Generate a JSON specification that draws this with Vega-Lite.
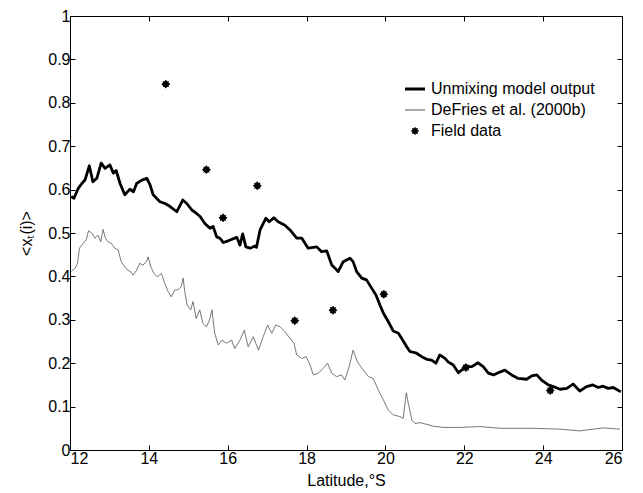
{
  "$schema": "https://vega.github.io/schema/vega-lite/v6.json",
  "width": 552,
  "height": 434,
  "autosize": {"type": "none"},
  "padding": {"left": 70, "top": 16, "right": 21, "bottom": 43},
  "background": "white",
  "datasets": {
    "unmix": [
      {"lat":12.03,"v":0.584},{"lat":12.10,"v":0.580},{"lat":12.21,"v":0.603},{"lat":12.30,"v":0.614},{"lat":12.38,"v":0.622},{"lat":12.49,"v":0.655},{"lat":12.58,"v":0.618},{"lat":12.68,"v":0.626},{"lat":12.79,"v":0.661},{"lat":12.89,"v":0.649},{"lat":13.01,"v":0.657},{"lat":13.10,"v":0.638},{"lat":13.17,"v":0.644},{"lat":13.27,"v":0.614},{"lat":13.39,"v":0.588},{"lat":13.52,"v":0.601},{"lat":13.61,"v":0.595},{"lat":13.69,"v":0.614},{"lat":13.82,"v":0.622},{"lat":13.95,"v":0.626},{"lat":14.03,"v":0.611},{"lat":14.11,"v":0.588},{"lat":14.28,"v":0.572},{"lat":14.41,"v":0.568},{"lat":14.54,"v":0.561},{"lat":14.71,"v":0.549},{"lat":14.86,"v":0.576},{"lat":14.96,"v":0.568},{"lat":15.09,"v":0.553},{"lat":15.21,"v":0.545},{"lat":15.30,"v":0.538},{"lat":15.42,"v":0.522},{"lat":15.55,"v":0.511},{"lat":15.63,"v":0.515},{"lat":15.72,"v":0.491},{"lat":15.80,"v":0.488},{"lat":15.89,"v":0.478},{"lat":16.01,"v":0.482},{"lat":16.23,"v":0.490},{"lat":16.31,"v":0.472},{"lat":16.38,"v":0.498},{"lat":16.46,"v":0.468},{"lat":16.57,"v":0.465},{"lat":16.69,"v":0.470},{"lat":16.73,"v":0.467},{"lat":16.82,"v":0.507},{"lat":16.97,"v":0.534},{"lat":17.05,"v":0.526},{"lat":17.17,"v":0.535},{"lat":17.28,"v":0.526},{"lat":17.45,"v":0.518},{"lat":17.58,"v":0.507},{"lat":17.75,"v":0.488},{"lat":17.88,"v":0.488},{"lat":18.04,"v":0.465},{"lat":18.26,"v":0.468},{"lat":18.38,"v":0.457},{"lat":18.51,"v":0.459},{"lat":18.64,"v":0.426},{"lat":18.72,"v":0.419},{"lat":18.80,"v":0.411},{"lat":18.93,"v":0.434},{"lat":19.10,"v":0.442},{"lat":19.18,"v":0.434},{"lat":19.27,"v":0.411},{"lat":19.40,"v":0.396},{"lat":19.52,"v":0.392},{"lat":19.65,"v":0.373},{"lat":19.76,"v":0.357},{"lat":19.86,"v":0.334},{"lat":19.95,"v":0.315},{"lat":20.07,"v":0.296},{"lat":20.20,"v":0.274},{"lat":20.33,"v":0.269},{"lat":20.44,"v":0.253},{"lat":20.54,"v":0.238},{"lat":20.62,"v":0.227},{"lat":20.79,"v":0.223},{"lat":20.92,"v":0.215},{"lat":21.05,"v":0.209},{"lat":21.17,"v":0.207},{"lat":21.28,"v":0.200},{"lat":21.38,"v":0.219},{"lat":21.51,"v":0.211},{"lat":21.59,"v":0.203},{"lat":21.72,"v":0.196},{"lat":21.85,"v":0.178},{"lat":21.93,"v":0.184},{"lat":22.06,"v":0.192},{"lat":22.19,"v":0.192},{"lat":22.35,"v":0.201},{"lat":22.48,"v":0.192},{"lat":22.61,"v":0.177},{"lat":22.74,"v":0.173},{"lat":22.86,"v":0.178},{"lat":23.03,"v":0.184},{"lat":23.20,"v":0.173},{"lat":23.37,"v":0.165},{"lat":23.58,"v":0.163},{"lat":23.71,"v":0.171},{"lat":23.84,"v":0.173},{"lat":23.96,"v":0.161},{"lat":24.13,"v":0.150},{"lat":24.26,"v":0.146},{"lat":24.43,"v":0.140},{"lat":24.60,"v":0.142},{"lat":24.76,"v":0.152},{"lat":24.93,"v":0.136},{"lat":25.10,"v":0.146},{"lat":25.26,"v":0.150},{"lat":25.40,"v":0.144},{"lat":25.52,"v":0.147},{"lat":25.65,"v":0.142},{"lat":25.78,"v":0.144},{"lat":25.97,"v":0.134}
    ],
    "defries": [
      {"lat":12.03,"v":0.411},{"lat":12.13,"v":0.419},{"lat":12.19,"v":0.430},{"lat":12.24,"v":0.465},{"lat":12.33,"v":0.476},{"lat":12.41,"v":0.484},{"lat":12.47,"v":0.505},{"lat":12.56,"v":0.499},{"lat":12.63,"v":0.488},{"lat":12.71,"v":0.495},{"lat":12.78,"v":0.480},{"lat":12.84,"v":0.508},{"lat":12.90,"v":0.488},{"lat":12.96,"v":0.480},{"lat":13.05,"v":0.476},{"lat":13.13,"v":0.465},{"lat":13.22,"v":0.461},{"lat":13.30,"v":0.434},{"lat":13.39,"v":0.422},{"lat":13.45,"v":0.415},{"lat":13.54,"v":0.411},{"lat":13.60,"v":0.403},{"lat":13.68,"v":0.413},{"lat":13.77,"v":0.430},{"lat":13.85,"v":0.426},{"lat":13.94,"v":0.434},{"lat":13.98,"v":0.445},{"lat":14.05,"v":0.422},{"lat":14.13,"v":0.407},{"lat":14.21,"v":0.399},{"lat":14.32,"v":0.407},{"lat":14.40,"v":0.384},{"lat":14.49,"v":0.365},{"lat":14.57,"v":0.353},{"lat":14.66,"v":0.369},{"lat":14.74,"v":0.369},{"lat":14.82,"v":0.376},{"lat":14.87,"v":0.396},{"lat":14.91,"v":0.365},{"lat":14.97,"v":0.334},{"lat":15.06,"v":0.323},{"lat":15.12,"v":0.342},{"lat":15.20,"v":0.303},{"lat":15.29,"v":0.323},{"lat":15.37,"v":0.292},{"lat":15.46,"v":0.284},{"lat":15.54,"v":0.300},{"lat":15.60,"v":0.323},{"lat":15.67,"v":0.269},{"lat":15.76,"v":0.242},{"lat":15.85,"v":0.253},{"lat":15.97,"v":0.246},{"lat":16.10,"v":0.253},{"lat":16.18,"v":0.234},{"lat":16.31,"v":0.253},{"lat":16.42,"v":0.276},{"lat":16.52,"v":0.238},{"lat":16.65,"v":0.261},{"lat":16.78,"v":0.230},{"lat":16.90,"v":0.261},{"lat":17.01,"v":0.288},{"lat":17.12,"v":0.269},{"lat":17.22,"v":0.288},{"lat":17.33,"v":0.284},{"lat":17.45,"v":0.273},{"lat":17.58,"v":0.257},{"lat":17.68,"v":0.246},{"lat":17.75,"v":0.219},{"lat":17.88,"v":0.211},{"lat":17.99,"v":0.215},{"lat":18.09,"v":0.196},{"lat":18.17,"v":0.173},{"lat":18.30,"v":0.177},{"lat":18.42,"v":0.188},{"lat":18.53,"v":0.200},{"lat":18.64,"v":0.177},{"lat":18.76,"v":0.169},{"lat":18.89,"v":0.173},{"lat":18.97,"v":0.161},{"lat":19.08,"v":0.192},{"lat":19.18,"v":0.230},{"lat":19.29,"v":0.203},{"lat":19.44,"v":0.184},{"lat":19.57,"v":0.169},{"lat":19.69,"v":0.165},{"lat":19.82,"v":0.138},{"lat":19.95,"v":0.115},{"lat":20.07,"v":0.092},{"lat":20.20,"v":0.081},{"lat":20.37,"v":0.077},{"lat":20.45,"v":0.073},{"lat":20.53,"v":0.132},{"lat":20.58,"v":0.108},{"lat":20.67,"v":0.069},{"lat":20.75,"v":0.061},{"lat":20.88,"v":0.063},{"lat":21.05,"v":0.059},{"lat":21.21,"v":0.055},{"lat":21.47,"v":0.052},{"lat":21.89,"v":0.052},{"lat":22.40,"v":0.054},{"lat":22.91,"v":0.050},{"lat":23.75,"v":0.050},{"lat":24.43,"v":0.048},{"lat":24.93,"v":0.044},{"lat":25.27,"v":0.048},{"lat":25.52,"v":0.051},{"lat":25.95,"v":0.048}
    ],
    "field": [
      {"lat":14.43,"v":0.843},{"lat":15.46,"v":0.646},{"lat":15.88,"v":0.535},{"lat":16.75,"v":0.609},{"lat":17.70,"v":0.298},{"lat":18.67,"v":0.322},{"lat":19.96,"v":0.359},{"lat":22.04,"v":0.190},{"lat":24.18,"v":0.137}
    ]
  },
  "layer": [
    {
      "data": {"name": "unmix"},
      "mark": {"type": "line", "strokeWidth": 2.8, "strokeJoin": "round"},
      "encoding": {
        "x": {"field": "lat", "type": "quantitative", "scale": {"domain": [12, 26], "nice": false}, "axis": {"orient": "bottom", "values": [12,14,16,18,20,22,24,26], "format": "d", "title": "Latitude,°S", "labelPadding": 5, "titlePadding": 6}},
        "y": {"field": "v", "type": "quantitative", "scale": {"domain": [0, 1], "nice": false}, "axis": {"orient": "left", "values": [0,0.1,0.2,0.3,0.4,0.5,0.6,0.7,0.8,0.9,1], "format": ".1~f", "title": "<xₜ(i)>", "labelPadding": 5, "titlePadding": 13}},
        "color": {"datum": "Unmixing model output", "type": "nominal", "scale": {"domain": ["Unmixing model output", "DeFries et al. (2000b)", "Field data"], "range": ["black", "#555555", "black"]},
          "legend": {"orient": "none", "legendX": 337, "legendY": 65, "title": null, "labelFontSize": 16, "labelFont": "Liberation Sans", "labelColor": "black", "labelLimit": 300, "symbolSize": 400, "labelOffset": 8, "rowPadding": 5, "symbolType": "stroke",
            "encode": {"symbols": {"update": {
              "shape": {"signal": "datum.value === 'Field data' ? 'M0,-1L0.35,-0.6L0.7,-0.7L0.6,-0.35L1,0L0.6,0.35L0.7,0.7L0.35,0.6L0,1L-0.35,0.6L-0.7,0.7L-0.6,0.35L-1,0L-0.6,-0.35L-0.7,-0.7L-0.35,-0.6Z' : 'stroke'"},
              "size": {"signal": "datum.value === 'Field data' ? 50 : 400"},
              "strokeWidth": {"signal": "datum.value === 'Unmixing model output' ? 3 : 1"},
              "fill": {"signal": "datum.value === 'Field data' ? 'black' : 'transparent'"},
              "stroke": {"signal": "datum.value === 'DeFries et al. (2000b)' ? '#999999' : 'black'"}
            }}}}
        }
      }
    },
    {
      "data": {"name": "defries"},
      "mark": {"type": "line", "strokeWidth": 0.8},
      "encoding": {
        "x": {"field": "lat", "type": "quantitative", "axis": {"orient": "top", "values": [12,14,16,18,20,22,24,26], "labels": false, "title": null}},
        "y": {"field": "v", "type": "quantitative", "axis": {"orient": "right", "values": [0,0.1,0.2,0.3,0.4,0.5,0.6,0.7,0.8,0.9,1], "labels": false, "title": null}},
        "color": {"datum": "DeFries et al. (2000b)", "type": "nominal"}
      }
    },
    {
      "data": {"name": "field"},
      "mark": {"type": "point", "filled": true, "size": 80, "opacity": 1, "shape": "M0,-1L0.35,-0.6L0.7,-0.7L0.6,-0.35L1,0L0.6,0.35L0.7,0.7L0.35,0.6L0,1L-0.35,0.6L-0.7,0.7L-0.6,0.35L-1,0L-0.6,-0.35L-0.7,-0.7L-0.35,-0.6Z"},
      "encoding": {
        "x": {"field": "lat", "type": "quantitative", "axis": null},
        "y": {"field": "v", "type": "quantitative", "axis": null},
        "color": {"datum": "Field data", "type": "nominal"}
      }
    }
  ],
  "resolve": {"axis": {"x": "independent", "y": "independent"}},
  "config": {
    "view": {"stroke": "black", "strokeWidth": 1},
    "axis": {"domain": false, "grid": false, "tickSize": -5, "tickColor": "black", "labelFont": "Liberation Sans", "labelFontSize": 16, "labelColor": "black", "titleFont": "Liberation Sans", "titleFontSize": 16, "titleFontWeight": "normal", "titleColor": "black"}
  }
}
